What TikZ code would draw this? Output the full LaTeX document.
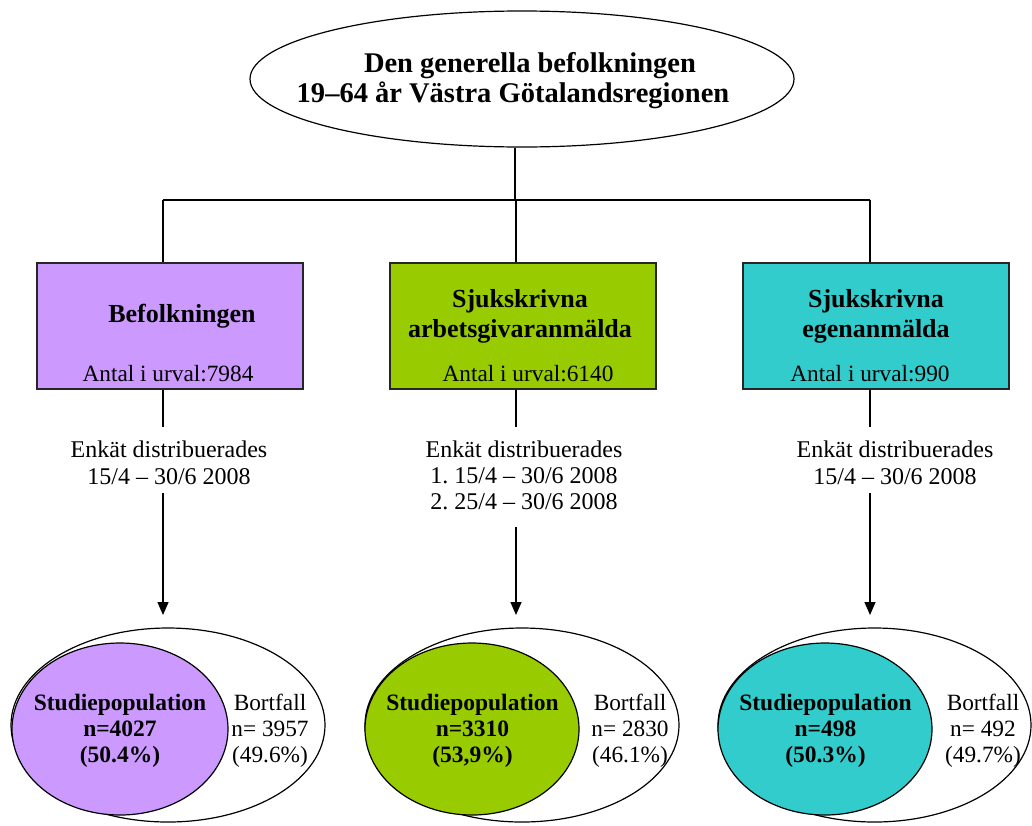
\documentclass[tikz,border=0pt]{standalone}
\usepackage{fontspec}
\setmainfont{Liberation Serif}
\usetikzlibrary{arrows.meta,shapes.geometric}
\definecolor{cpurple}{HTML}{CC99FF}
\definecolor{cgreen}{HTML}{99CC00}
\definecolor{cteal}{HTML}{33CCCC}
\frenchspacing
\begin{document}
\frenchspacing
\begin{tikzpicture}[x=1pt,y=-1pt,line width=1.2pt,
  txt/.style={inner sep=0pt,anchor=base,font=\fontsize{23.3}{28}\selectfont},
  enk/.style={inner sep=0pt,anchor=base,font=\fontsize{24}{28}\selectfont},
  hdr/.style={inner sep=0pt,anchor=base,font=\fontsize{26}{30}\selectfont\bfseries},
  ttl/.style={inner sep=0pt,anchor=base,font=\fontsize{28.5}{33}\selectfont\bfseries},
  sbold/.style={inner sep=0pt,anchor=base,font=\fontsize{23.5}{28}\selectfont\bfseries},
  stepbox/.style={draw=black!85,line width=1.5pt,minimum width=266pt,minimum height=126pt,inner sep=0pt},
  oval/.style={draw,ellipse,inner sep=0pt},
  arr/.style={-{Triangle[width=11pt,length=13pt]},line width=1.5pt}]
\useasboundingbox (0,0) rectangle (1032,825);

% top ellipse
\node[oval,minimum width=544pt,minimum height=136pt] (top) at (522,79) {};
\node[ttl] (t1) at (530,72) {Den generella befolkningen};
\node[ttl] (t2) at (513,102) {19–64 år Västra Götalandsregionen};

% boxes
\node[stepbox,fill=cpurple] (b1) at (170,326) {};
\node[stepbox,fill=cgreen] (b2) at (523,326) {};
\node[stepbox,fill=cteal] (b3) at (876,326) {};

\node[hdr] (h1) at (182,322) {Befolkningen};
\node[txt] (n1) at (168,381) {Antal i urval:7984};
\node[hdr] (h2a) at (520,307) {Sjukskrivna};
\node[hdr] (h2b) at (520,337) {arbetsgivaranmälda};
\node[txt] (n2) at (528,381) {Antal i urval:6140};
\node[hdr] (h3a) at (876,307) {Sjukskrivna};
\node[hdr] (h3b) at (876,337) {egenanmälda};
\node[txt] (n3) at (870,381) {Antal i urval:990};

% tree connectors
\coordinate (j) at (515,200);
\coordinate (jl) at (163,200);
\coordinate (jm) at (516,200);
\coordinate (jr) at (870,200);
\draw (j |- top.south) -- (j);
\draw (jl) -- (jr);
\draw (jl) -- (jl |- b1.north);
\draw (jm) -- (jm |- b2.north);
\draw (jr) -- (jr |- b3.north);

% below boxes
\coordinate (d1) at (163,427);
\coordinate (d2) at (516,427);
\coordinate (d3) at (870,427);
\draw (d1 |- b1.south) -- (d1);
\draw (d2 |- b2.south) -- (d2);
\draw (d3 |- b3.south) -- (d3);

\node[enk] (e1a) at (169,457) {Enkät distribuerades};
\node[enk] (e1b) at (169,484) {15/4 – 30/6 2008};
\node[enk] (e2a) at (524,457) {Enkät distribuerades};
\node[enk] (e2b) at (524,483) {1. 15/4 – 30/6 2008};
\node[enk] (e2c) at (524,509) {2. 25/4 – 30/6 2008};
\node[enk] (e3a) at (895,457) {Enkät distribuerades};
\node[enk] (e3b) at (895,484) {15/4 – 30/6 2008};

% arrows
\coordinate (s1) at (163,493);
\coordinate (f1) at (163,615);
\coordinate (s2) at (516,527);
\coordinate (f2) at (516,615);
\coordinate (s3) at (870,493);
\coordinate (f3) at (870,615);
\draw[arr] (s1) -- (f1);
\draw[arr] (s2) -- (f2);
\draw[arr] (s3) -- (f3);

% bottom ellipses
\node[oval,minimum width=314pt,minimum height=194pt] (o1) at (168,725) {};
\node[oval,fill=cpurple,minimum width=216pt,minimum height=172pt] (i1) at (120,729) {};
\node[oval,minimum width=314pt,minimum height=194pt] (o2) at (522,725) {};
\node[oval,fill=cgreen,minimum width=214pt,minimum height=172pt] (i2) at (472,729) {};
\node[oval,minimum width=313pt,minimum height=194pt] (o3) at (874.5,725) {};
\node[oval,fill=cteal,minimum width=214pt,minimum height=172pt] (i3) at (825,729) {};

\node[sbold] (p1a) at (120,710) {Studiepopulation};
\node[sbold] (p1b) at (120,736) {n=4027};
\node[sbold] (p1c) at (120,762) {(50.4\%)};
\node[txt] (q1a) at (270,710) {Bortfall};
\node[txt] (q1b) at (270,736) {n= 3957};
\node[txt] (q1c) at (270,762) {(49.6\%)};

\node[sbold] (p2a) at (472.5,710) {Studiepopulation};
\node[sbold] (p2b) at (472.5,736) {n=3310};
\node[sbold] (p2c) at (472.5,762) {(53,9\%)};
\node[txt] (q2a) at (630,710) {Bortfall};
\node[txt] (q2b) at (630,736) {n= 2830};
\node[txt] (q2c) at (630,762) {(46.1\%)};

\node[sbold] (p3a) at (825.5,710) {Studiepopulation};
\node[sbold] (p3b) at (825.5,736) {n=498};
\node[sbold] (p3c) at (825.5,762) {(50.3\%)};
\node[txt] (q3a) at (983,710) {Bortfall};
\node[txt] (q3b) at (983,736) {n= 492};
\node[txt] (q3c) at (983,762) {(49.7\%)};
\end{tikzpicture}
\end{document}
